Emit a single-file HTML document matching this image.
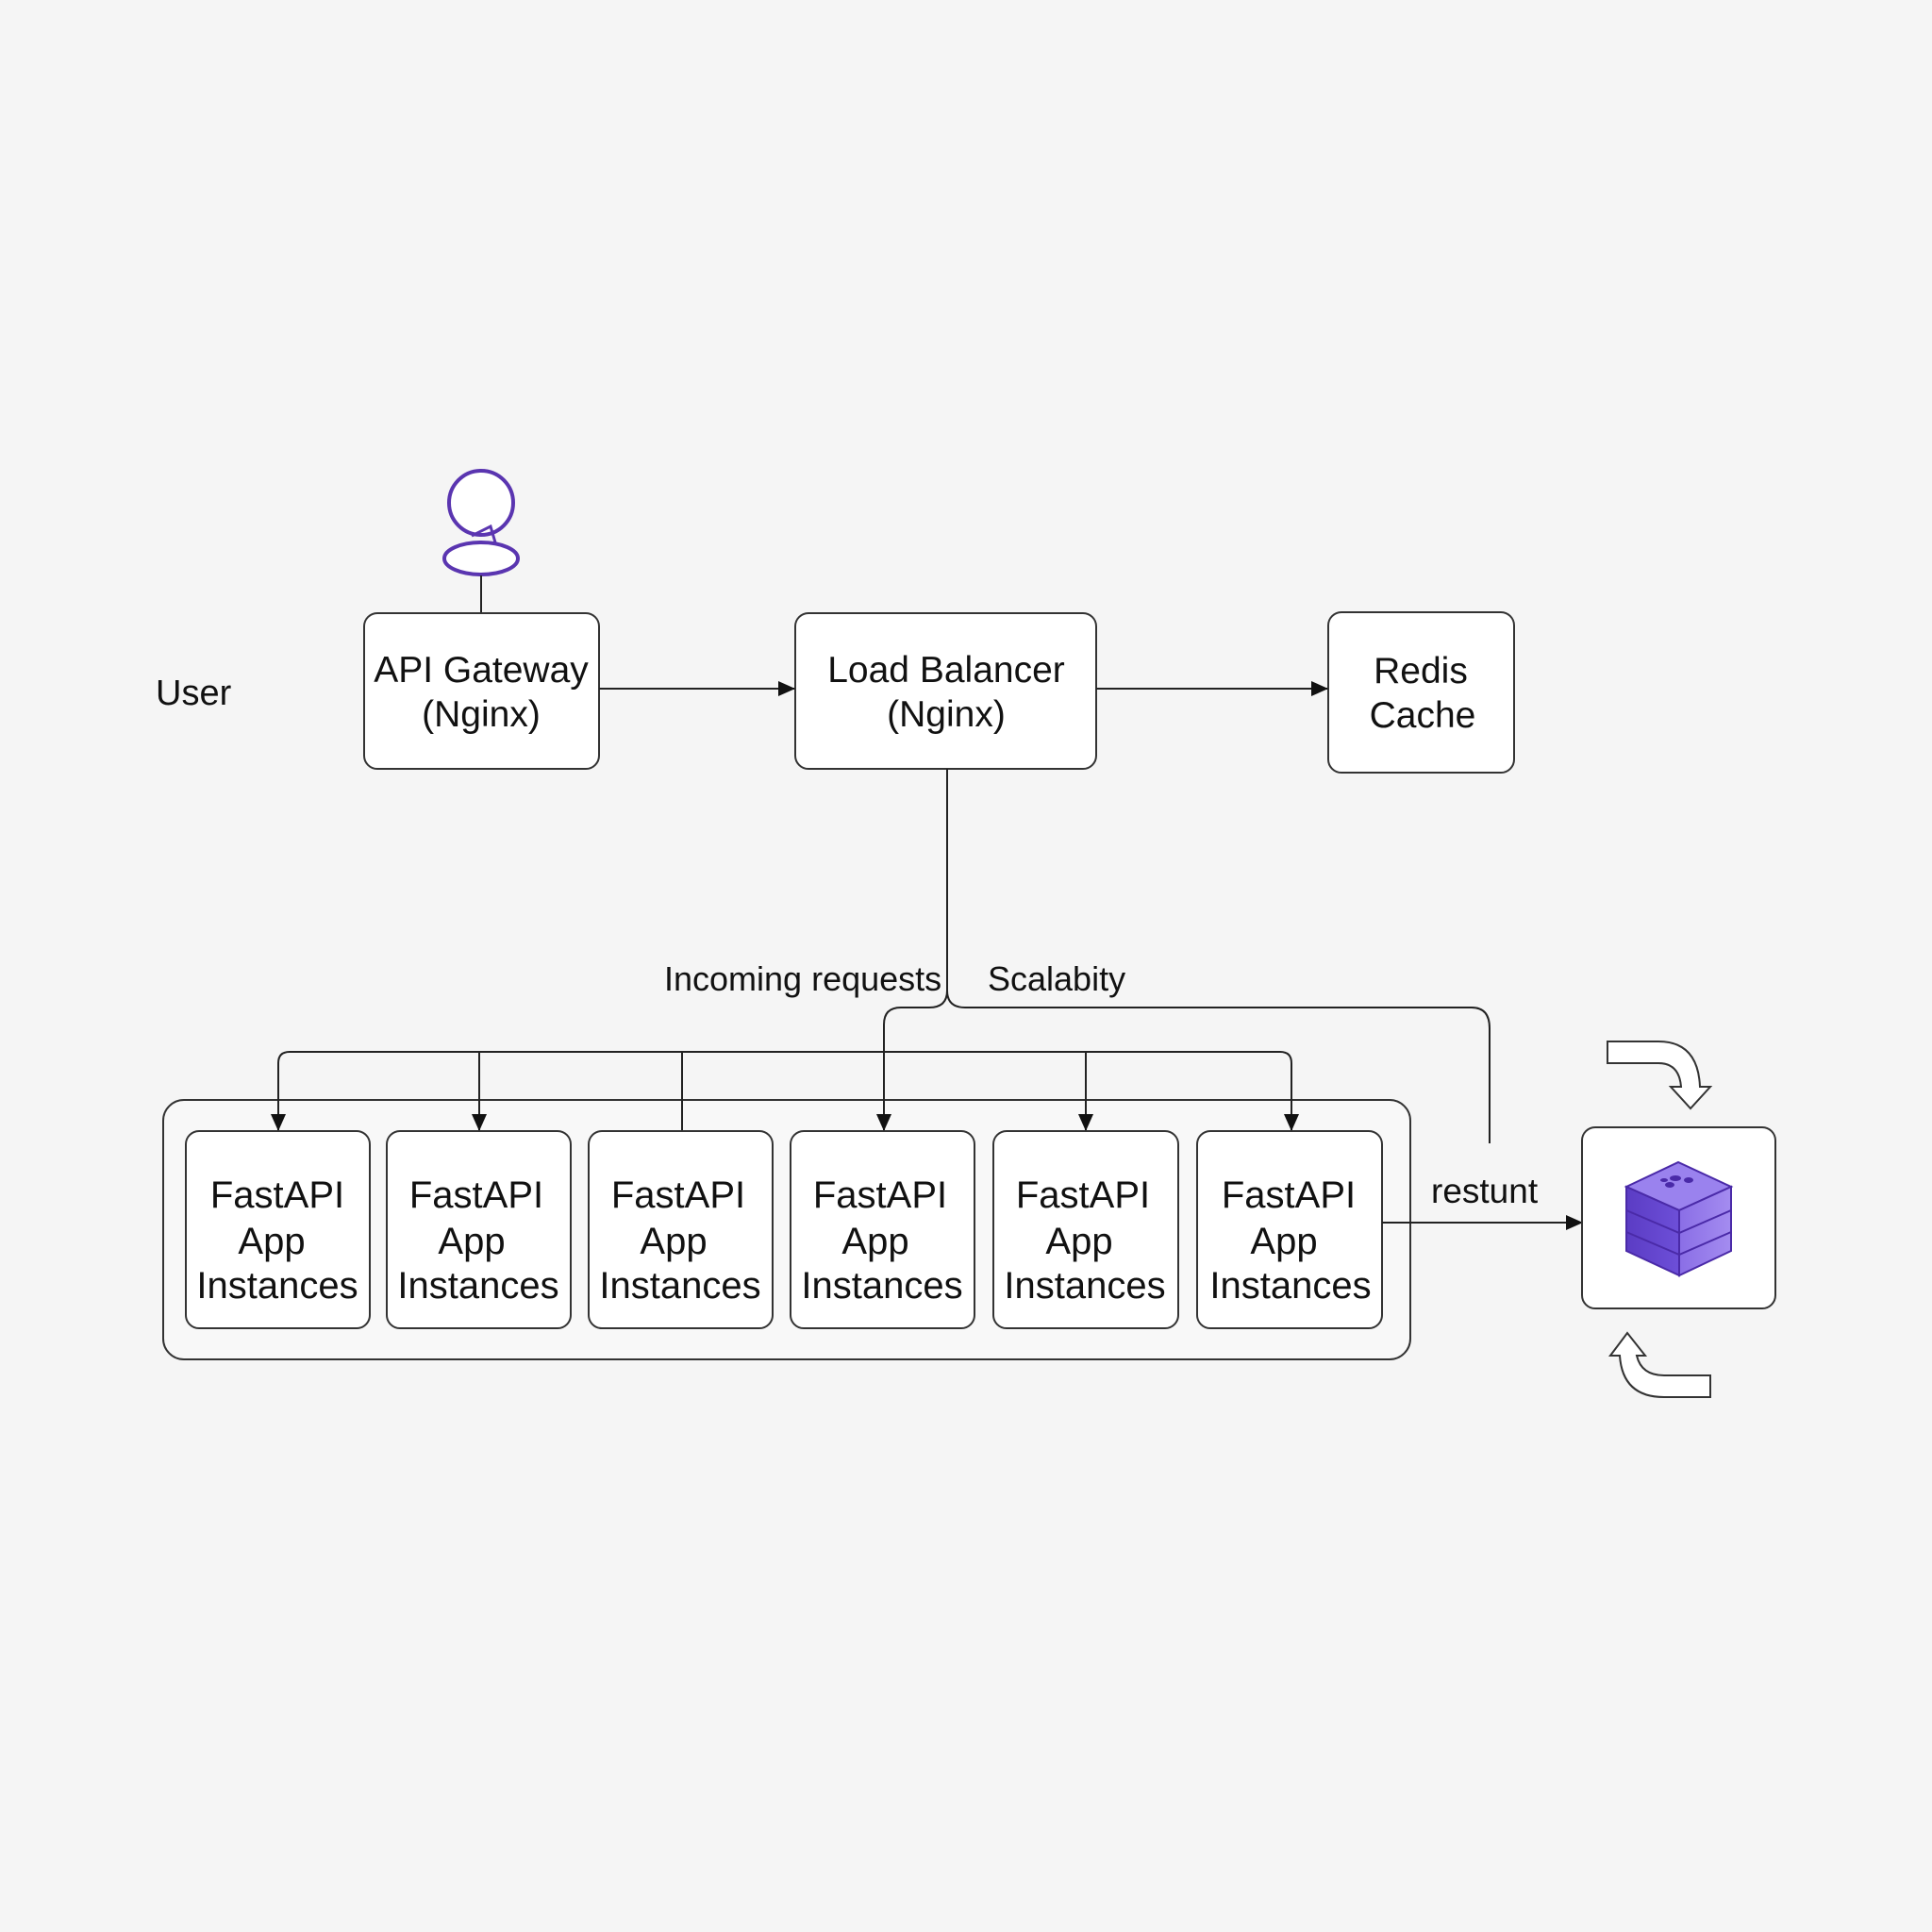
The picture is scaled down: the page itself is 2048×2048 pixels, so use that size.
<!DOCTYPE html>
<html><head><meta charset="utf-8"><style>
html,body{margin:0;padding:0;background:#f5f5f5;}
svg{display:block}
text{font-family:"Liberation Sans",sans-serif;fill:#111;}
</style></head><body>
<svg width="2048" height="2048" viewBox="0 0 2048 2048" xmlns="http://www.w3.org/2000/svg">
<defs>
<marker id="ah" markerWidth="18" markerHeight="18" refX="17" refY="9" orient="auto" markerUnits="userSpaceOnUse">
<path d="M0,1 L18,9 L0,17 Z" fill="#111"/>
</marker>
<linearGradient id="cf" x1="0" x2="1"><stop offset="0" stop-color="#5b3cc4"/><stop offset="1" stop-color="#6d4fd8"/></linearGradient>
<linearGradient id="cr" x1="0" x2="1"><stop offset="0" stop-color="#8a6ee6"/><stop offset="1" stop-color="#a48cf0"/></linearGradient>
</defs>
<rect width="2048" height="2048" fill="#f5f5f5"/>

<!-- user icon -->
<circle cx="510" cy="533" r="34" fill="#fff" stroke="#5a35b0" stroke-width="4"/>
<ellipse cx="510" cy="592" rx="39" ry="17" fill="#fff" stroke="#5a35b0" stroke-width="4"/>
<path d="M500 568 L520 558 L525 575" fill="none" stroke="#5a35b0" stroke-width="3"/>
<line x1="510" y1="610" x2="510" y2="649" stroke="#222" stroke-width="2"/>
<text x="165" y="747" font-size="38">User</text>

<!-- top boxes -->
<rect x="386" y="650" width="249" height="165" rx="14" fill="#fff" stroke="#333" stroke-width="2"/>
<text x="510" y="723" font-size="39" text-anchor="middle">API Gateway</text>
<text x="510" y="770" font-size="39" text-anchor="middle">(Nginx)</text>
<rect x="843" y="650" width="319" height="165" rx="14" fill="#fff" stroke="#333" stroke-width="2"/>
<text x="1003" y="723" font-size="39" text-anchor="middle">Load Balancer</text>
<text x="1003" y="770" font-size="39" text-anchor="middle">(Nginx)</text>
<rect x="1408" y="649" width="197" height="170" rx="14" fill="#fff" stroke="#333" stroke-width="2"/>
<text x="1506" y="724" font-size="39" text-anchor="middle">Redis</text>
<text x="1508" y="771" font-size="39" text-anchor="middle">Cache</text>

<line x1="635" y1="730" x2="842" y2="730" stroke="#222" stroke-width="2" marker-end="url(#ah)"/>
<line x1="1162" y1="730" x2="1407" y2="730" stroke="#222" stroke-width="2" marker-end="url(#ah)"/>

<!-- container -->
<rect x="173" y="1166" width="1322" height="275" rx="22" fill="#f8f8f8" stroke="#333" stroke-width="2"/>

<!-- LB down -->
<path d="M1004 815 L1004 1050 Q1004 1068 985 1068 L955 1068 Q937 1068 937 1086 L937 1198" fill="none" stroke="#222" stroke-width="2" marker-end="url(#ah)"/>
<path d="M1004 1050 Q1004 1068 1023 1068 L1560 1068 Q1579 1068 1579 1090 L1579 1212" fill="none" stroke="#222" stroke-width="2"/>
<text x="704" y="1050" font-size="36">Incoming requests</text>
<text x="1047" y="1050" font-size="36">Scalabity</text>

<!-- bus -->
<path d="M295 1198 L295 1127 Q295 1115 307 1115 L1357 1115 Q1369 1115 1369 1127 L1369 1198" fill="none" stroke="#222" stroke-width="2" marker-end="url(#ah)"/>
<line x1="295" y1="1150" x2="295" y2="1198" stroke="#222" stroke-width="2" marker-end="url(#ah)"/>
<line x1="508" y1="1115" x2="508" y2="1198" stroke="#222" stroke-width="2" marker-end="url(#ah)"/>
<line x1="723" y1="1115" x2="723" y2="1199" stroke="#222" stroke-width="2"/>
<line x1="1151" y1="1115" x2="1151" y2="1198" stroke="#222" stroke-width="2" marker-end="url(#ah)"/>

<g font-size="40" text-anchor="middle">
<rect x="197" y="1199" width="195" height="209" rx="14" fill="#fff" stroke="#333" stroke-width="2"/>
<text x="294" y="1280">FastAPI</text><text x="288" y="1329">App</text><text x="294" y="1376">Instances</text>
<rect x="410" y="1199" width="195" height="209" rx="14" fill="#fff" stroke="#333" stroke-width="2"/>
<text x="505" y="1280">FastAPI</text><text x="500" y="1329">App</text><text x="507" y="1376">Instances</text>
<rect x="624" y="1199" width="195" height="209" rx="14" fill="#fff" stroke="#333" stroke-width="2"/>
<text x="719" y="1280">FastAPI</text><text x="714" y="1329">App</text><text x="721" y="1376">Instances</text>
<rect x="838" y="1199" width="195" height="209" rx="14" fill="#fff" stroke="#333" stroke-width="2"/>
<text x="933" y="1280">FastAPI</text><text x="928" y="1329">App</text><text x="935" y="1376">Instances</text>
<rect x="1053" y="1199" width="196" height="209" rx="14" fill="#fff" stroke="#333" stroke-width="2"/>
<text x="1148" y="1280">FastAPI</text><text x="1144" y="1329">App</text><text x="1150" y="1376">Instances</text>
<rect x="1269" y="1199" width="196" height="209" rx="14" fill="#fff" stroke="#333" stroke-width="2"/>
<text x="1366" y="1280">FastAPI</text><text x="1361" y="1329">App</text><text x="1368" y="1376">Instances</text>
</g>

<!-- restunt -->
<text x="1517" y="1275" font-size="37">restunt</text>
<line x1="1465" y1="1296" x2="1677" y2="1296" stroke="#222" stroke-width="2" marker-end="url(#ah)"/>

<!-- icon box -->
<rect x="1677" y="1195" width="205" height="192" rx="14" fill="#fff" stroke="#333" stroke-width="2"/>
<g>
<path d="M1724 1258 L1779 1232 L1835 1258 L1780 1283 Z" fill="#9a82ee" stroke="#4a2aa8" stroke-width="2"/>
<path d="M1724 1258 L1780 1283 L1780 1352 L1724 1326 Z" fill="url(#cf)" stroke="#4a2aa8" stroke-width="2"/>
<path d="M1780 1283 L1835 1258 L1835 1326 L1780 1352 Z" fill="url(#cr)" stroke="#4a2aa8" stroke-width="2"/>
<path d="M1724 1283 L1780 1307 L1835 1283 M1724 1306 L1780 1330 L1835 1306" fill="none" stroke="#4a2aa8" stroke-width="2"/>
<ellipse cx="1776" cy="1249" rx="6" ry="3" fill="#4a2aa8"/>
<ellipse cx="1770" cy="1256" rx="5" ry="3" fill="#4a2aa8"/>
<ellipse cx="1790" cy="1251" rx="5" ry="3" fill="#4a2aa8"/>
<ellipse cx="1764" cy="1251" rx="4" ry="2" fill="#4a2aa8"/>
</g>

<!-- curved arrows -->
<path d="M1704 1104 L1758 1104 Q1800 1104 1802 1152 L1813 1152 L1792 1175 L1771 1152 L1782 1152 Q1780 1127 1758 1127 L1704 1127 Z" fill="#fff" stroke="#333" stroke-width="2"/>
<path d="M1813 1481 L1764 1481 Q1720 1481 1717 1437 L1707 1437 L1725 1413 L1744 1437 L1735 1437 Q1740 1458 1764 1458 L1813 1458 Z" fill="#fff" stroke="#333" stroke-width="2"/>
</svg>
</body></html>
